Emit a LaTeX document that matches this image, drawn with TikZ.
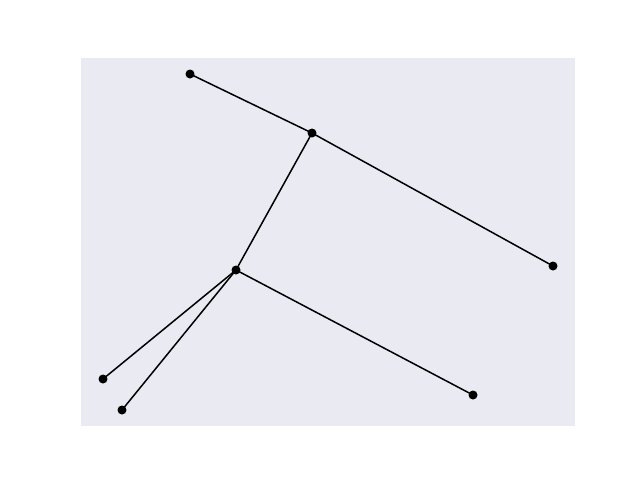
\documentclass[tikz,border=0pt]{standalone}
\definecolor{bgax}{HTML}{EAEAF2}
\begin{document}
\begin{tikzpicture}[x=1pt,y=-1pt,
  dot/.style={circle,fill=black,inner sep=0pt,minimum size=9pt},
  edge/.style={black,line width=1.5pt}]
\useasboundingbox (0,0) rectangle (640,480);
\fill[bgax] (81,58) rectangle (575,426);
\node[dot] (a) at (190,74) {};
\node[dot] (b) at (312,133) {};
\node[dot] (c) at (553,266) {};
\node[dot] (d) at (236,270) {};
\node[dot] (e) at (103,379) {};
\node[dot] (f) at (122,410) {};
\node[dot] (g) at (473,395) {};
\draw[edge] (a.center) -- (b.center);
\draw[edge] (b.center) -- (c.center);
\draw[edge] (b.center) -- (d.center);
\draw[edge] (d.center) -- (e.center);
\draw[edge] (d.center) -- (f.center);
\draw[edge] (d.center) -- (g.center);
\end{tikzpicture}
\end{document}
